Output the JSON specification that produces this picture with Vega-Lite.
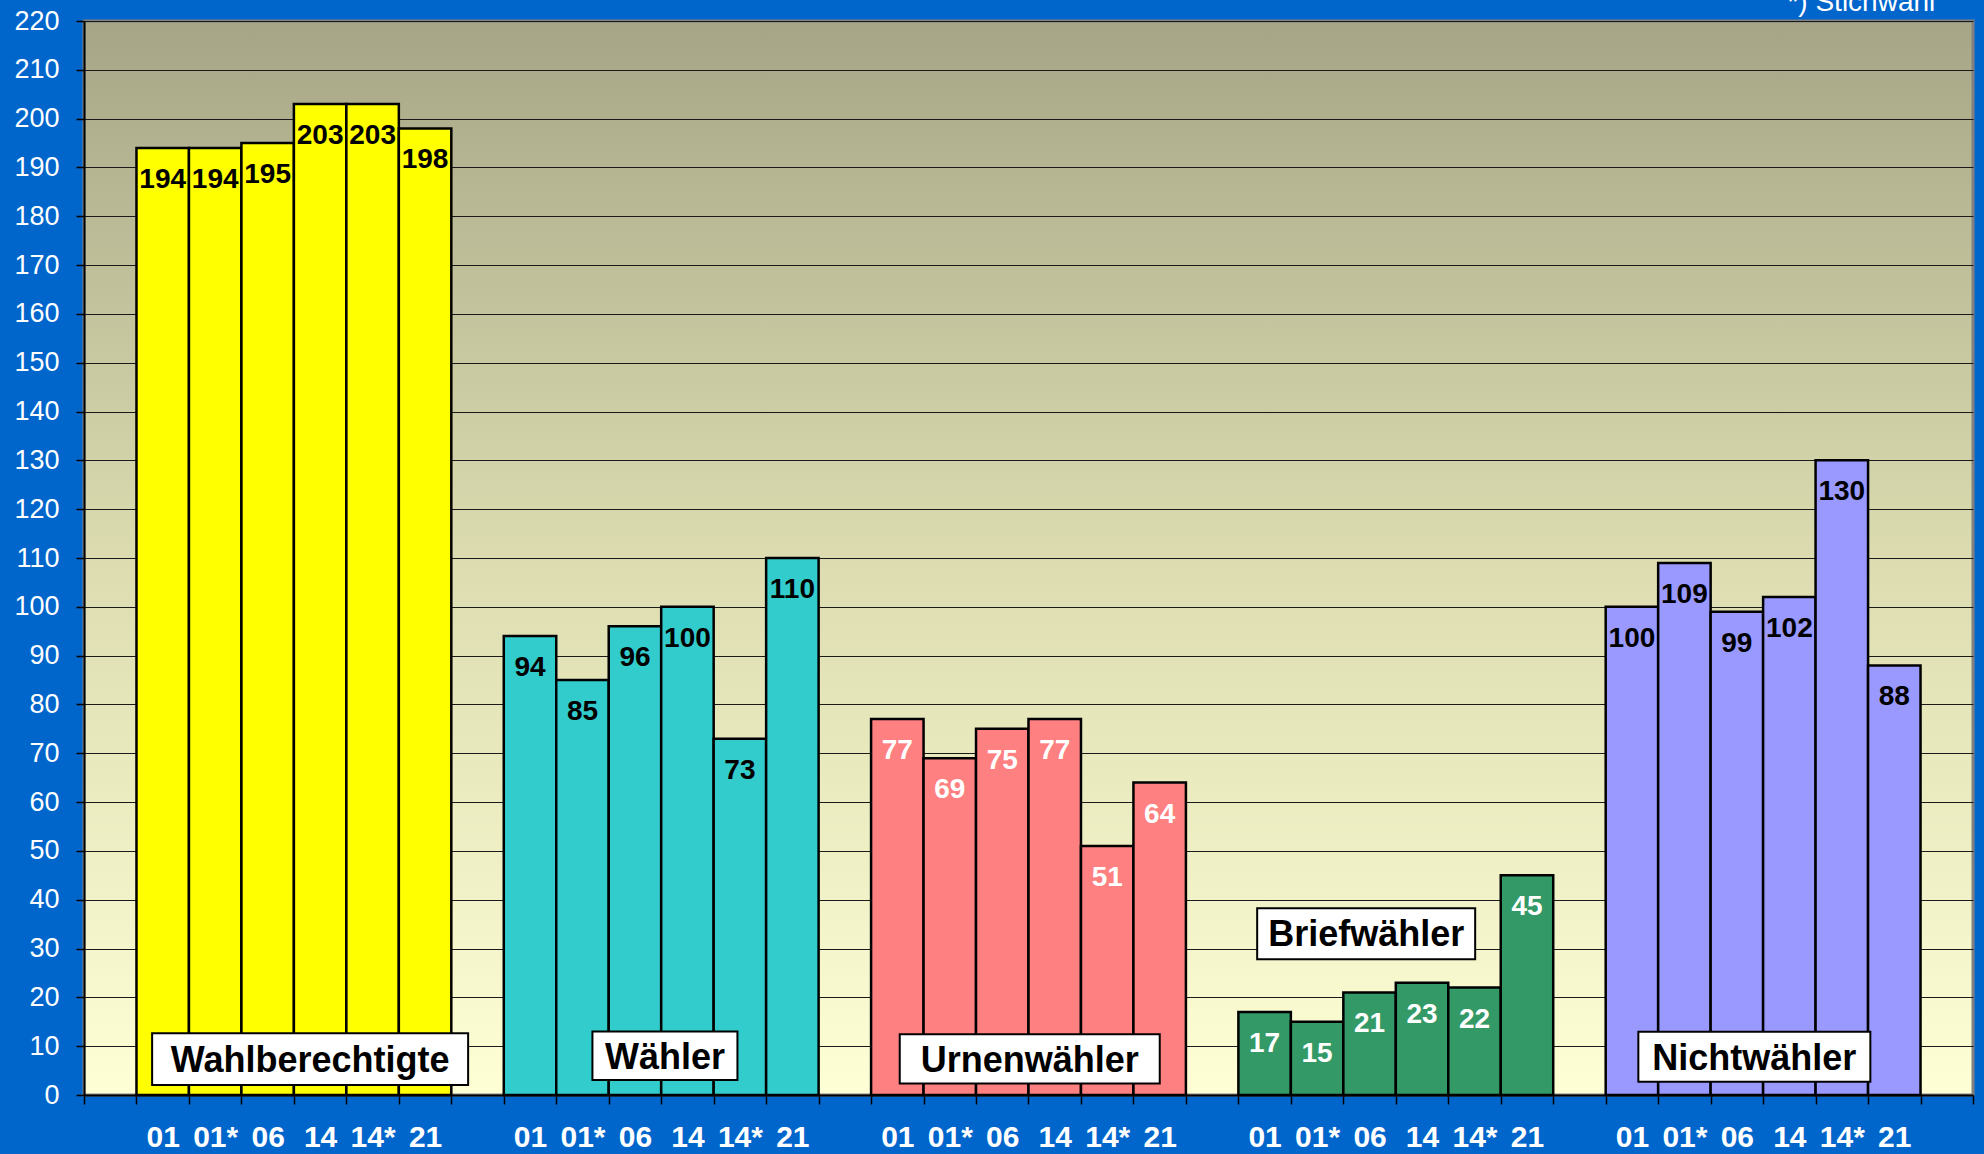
{
  "$schema": "https://vega.github.io/schema/vega-lite/v6.json",
  "autosize": "none",
  "width": 1889,
  "height": 1074,
  "padding": {"left": 84, "top": 21, "right": 11, "bottom": 59},
  "background": "#0066CC",
  "config": {
    "font": "Liberation Sans",
    "view": {
      "fill": {"gradient": "linear", "x1": 0, "y1": 0, "x2": 0, "y2": 1, "stops": [{"offset": 0, "color": "#A6A687"}, {"offset": 0.5, "color": "#DCDCB0"}, {"offset": 1, "color": "#FFFFD6"}]},
      "stroke": "#808080",
      "strokeWidth": 3
    }
  },
  "data": {"values": [
    {"bar": "Wahlberechtigte 01", "group": "Wahlberechtigte", "year": "01", "value": 194},
    {"bar": "Wahlberechtigte 01*", "group": "Wahlberechtigte", "year": "01*", "value": 194},
    {"bar": "Wahlberechtigte 06", "group": "Wahlberechtigte", "year": "06", "value": 195},
    {"bar": "Wahlberechtigte 14", "group": "Wahlberechtigte", "year": "14", "value": 203},
    {"bar": "Wahlberechtigte 14*", "group": "Wahlberechtigte", "year": "14*", "value": 203},
    {"bar": "Wahlberechtigte 21", "group": "Wahlberechtigte", "year": "21", "value": 198},
    {"bar": "Wähler 01", "group": "Wähler", "year": "01", "value": 94},
    {"bar": "Wähler 01*", "group": "Wähler", "year": "01*", "value": 85},
    {"bar": "Wähler 06", "group": "Wähler", "year": "06", "value": 96},
    {"bar": "Wähler 14", "group": "Wähler", "year": "14", "value": 100},
    {"bar": "Wähler 14*", "group": "Wähler", "year": "14*", "value": 73},
    {"bar": "Wähler 21", "group": "Wähler", "year": "21", "value": 110},
    {"bar": "Urnenwähler 01", "group": "Urnenwähler", "year": "01", "value": 77},
    {"bar": "Urnenwähler 01*", "group": "Urnenwähler", "year": "01*", "value": 69},
    {"bar": "Urnenwähler 06", "group": "Urnenwähler", "year": "06", "value": 75},
    {"bar": "Urnenwähler 14", "group": "Urnenwähler", "year": "14", "value": 77},
    {"bar": "Urnenwähler 14*", "group": "Urnenwähler", "year": "14*", "value": 51},
    {"bar": "Urnenwähler 21", "group": "Urnenwähler", "year": "21", "value": 64},
    {"bar": "Briefwähler 01", "group": "Briefwähler", "year": "01", "value": 17},
    {"bar": "Briefwähler 01*", "group": "Briefwähler", "year": "01*", "value": 15},
    {"bar": "Briefwähler 06", "group": "Briefwähler", "year": "06", "value": 21},
    {"bar": "Briefwähler 14", "group": "Briefwähler", "year": "14", "value": 23},
    {"bar": "Briefwähler 14*", "group": "Briefwähler", "year": "14*", "value": 22},
    {"bar": "Briefwähler 21", "group": "Briefwähler", "year": "21", "value": 45},
    {"bar": "Nichtwähler 01", "group": "Nichtwähler", "year": "01", "value": 100},
    {"bar": "Nichtwähler 01*", "group": "Nichtwähler", "year": "01*", "value": 109},
    {"bar": "Nichtwähler 06", "group": "Nichtwähler", "year": "06", "value": 99},
    {"bar": "Nichtwähler 14", "group": "Nichtwähler", "year": "14", "value": 102},
    {"bar": "Nichtwähler 14*", "group": "Nichtwähler", "year": "14*", "value": 130},
    {"bar": "Nichtwähler 21", "group": "Nichtwähler", "year": "21", "value": 88},
    {"bar": "Wahlberechtigte 14", "label": "Wahlberechtigte", "top": 12.64, "bottom": 2.05, "mid": 6.96},
    {"bar": "Wähler 14", "label": "Wähler", "top": 12.99, "bottom": 3.05, "mid": 7.6},
    {"bar": "Urnenwähler 14", "label": "Urnenwähler", "top": 12.45, "bottom": 2.38, "mid": 7.0},
    {"bar": "Briefwähler 06", "label": "Briefwähler", "top": 38.24, "bottom": 27.8, "mid": 32.77},
    {"bar": "Nichtwähler 14", "label": "Nichtwähler", "top": 12.97, "bottom": 2.72, "mid": 7.37},
    {"bar": "Nichtwähler 21", "label": "*) Stichwahl", "mid": 220}
  ]},
  "encoding": {
    "x": {
      "field": "bar", "type": "nominal", "title": null,
      "scale": {"type": "band", "paddingInner": 0, "paddingOuter": 0, "domain": [
        "g0", "Wahlberechtigte 01", "Wahlberechtigte 01*", "Wahlberechtigte 06", "Wahlberechtigte 14", "Wahlberechtigte 14*", "Wahlberechtigte 21",
        "g1", "Wähler 01", "Wähler 01*", "Wähler 06", "Wähler 14", "Wähler 14*", "Wähler 21",
        "g2", "Urnenwähler 01", "Urnenwähler 01*", "Urnenwähler 06", "Urnenwähler 14", "Urnenwähler 14*", "Urnenwähler 21",
        "g3", "Briefwähler 01", "Briefwähler 01*", "Briefwähler 06", "Briefwähler 14", "Briefwähler 14*", "Briefwähler 21",
        "g4", "Nichtwähler 01", "Nichtwähler 01*", "Nichtwähler 06", "Nichtwähler 14", "Nichtwähler 14*", "Nichtwähler 21",
        "g5"]},
      "axis": {
        "labelAngle": 0, "labelOverlap": false,
        "labelExpr": "test(/ /, '' + datum.value) ? split('' + datum.value, ' ')[1] : ''",
        "labelFontSize": 30, "labelFontWeight": "bold", "labelColor": "white",
        "labelBaseline": "alphabetic", "labelPadding": 42,
        "tickBand": "extent", "tickSize": 9, "tickColor": "black", "tickWidth": 1.5,
        "domainColor": "black", "domainWidth": 2, "grid": false
      }
    }
  },
  "layer": [
    {
      "transform": [{"filter": "isValid(datum.value)"}],
      "mark": {"type": "bar", "stroke": "black", "strokeWidth": 2.5},
      "encoding": {
        "y": {
          "field": "value", "type": "quantitative", "title": null,
          "scale": {"domain": [0, 220], "nice": false},
          "axis": {
            "values": [0, 10, 20, 30, 40, 50, 60, 70, 80, 90, 100, 110, 120, 130, 140, 150, 160, 170, 180, 190, 200, 210, 220],
            "grid": true, "gridColor": "#1a1a1a", "gridWidth": 1.2,
            "labelFontSize": 27, "labelColor": "white", "labelPadding": 17,
            "tickSize": 8, "tickColor": "black", "tickWidth": 1.5,
            "domainColor": "black", "domainWidth": 2
          }
        },
        "color": {"field": "group", "type": "nominal", "legend": null,
          "scale": {"domain": ["Wahlberechtigte", "Wähler", "Urnenwähler", "Briefwähler", "Nichtwähler"], "range": ["#FFFF00", "#33CCCC", "#FF8080", "#339966", "#9999FF"]}}
      }
    },
    {
      "transform": [{"filter": "isValid(datum.value)"}],
      "mark": {"type": "text", "baseline": "alphabetic", "align": "center", "dy": 40, "fontSize": 28, "fontWeight": "bold"},
      "encoding": {
        "y": {"field": "value", "type": "quantitative"},
        "text": {"field": "value", "type": "quantitative"},
        "color": {"condition": {"test": "datum.group === 'Urnenwähler' || datum.group === 'Briefwähler'", "value": "white"}, "value": "black"}
      }
    },
    {
      "transform": [{"filter": "datum.label === 'Wahlberechtigte'"}],
      "mark": {"type": "bar", "width": 316, "xOffset": -10, "fill": "white", "stroke": "black", "strokeWidth": 2},
      "encoding": {"y": {"field": "top", "type": "quantitative", "stack": null}, "y2": {"field": "bottom"}}
    },
    {
      "transform": [{"filter": "datum.label === 'Wahlberechtigte'"}],
      "mark": {"type": "text", "dx": -10, "align": "center", "baseline": "middle", "fontSize": 36, "fontWeight": "bold", "color": "black"},
      "encoding": {"y": {"field": "mid", "type": "quantitative"}, "text": {"field": "label", "type": "nominal"}}
    },
    {
      "transform": [{"filter": "datum.label === 'Wähler'"}],
      "mark": {"type": "bar", "width": 145, "xOffset": -22.5, "fill": "white", "stroke": "black", "strokeWidth": 2},
      "encoding": {"y": {"field": "top", "type": "quantitative", "stack": null}, "y2": {"field": "bottom"}}
    },
    {
      "transform": [{"filter": "datum.label === 'Wähler'"}],
      "mark": {"type": "text", "dx": -22.5, "align": "center", "baseline": "middle", "fontSize": 36, "fontWeight": "bold", "color": "black"},
      "encoding": {"y": {"field": "mid", "type": "quantitative"}, "text": {"field": "label", "type": "nominal"}}
    },
    {
      "transform": [{"filter": "datum.label === 'Urnenwähler'"}],
      "mark": {"type": "bar", "width": 260, "xOffset": -25, "fill": "white", "stroke": "black", "strokeWidth": 2},
      "encoding": {"y": {"field": "top", "type": "quantitative", "stack": null}, "y2": {"field": "bottom"}}
    },
    {
      "transform": [{"filter": "datum.label === 'Urnenwähler'"}],
      "mark": {"type": "text", "dx": -25, "align": "center", "baseline": "middle", "fontSize": 36, "fontWeight": "bold", "color": "black"},
      "encoding": {"y": {"field": "mid", "type": "quantitative"}, "text": {"field": "label", "type": "nominal"}}
    },
    {
      "transform": [{"filter": "datum.label === 'Briefwähler'"}],
      "mark": {"type": "bar", "width": 218, "xOffset": -3.4, "fill": "white", "stroke": "black", "strokeWidth": 2},
      "encoding": {"y": {"field": "top", "type": "quantitative", "stack": null}, "y2": {"field": "bottom"}}
    },
    {
      "transform": [{"filter": "datum.label === 'Briefwähler'"}],
      "mark": {"type": "text", "dx": -3.4, "align": "center", "baseline": "middle", "fontSize": 36, "fontWeight": "bold", "color": "black"},
      "encoding": {"y": {"field": "mid", "type": "quantitative"}, "text": {"field": "label", "type": "nominal"}}
    },
    {
      "transform": [{"filter": "datum.label === 'Nichtwähler'"}],
      "mark": {"type": "bar", "width": 232, "xOffset": -35, "fill": "white", "stroke": "black", "strokeWidth": 2},
      "encoding": {"y": {"field": "top", "type": "quantitative", "stack": null}, "y2": {"field": "bottom"}}
    },
    {
      "transform": [{"filter": "datum.label === 'Nichtwähler'"}],
      "mark": {"type": "text", "dx": -35, "align": "center", "baseline": "middle", "fontSize": 36, "fontWeight": "bold", "color": "black"},
      "encoding": {"y": {"field": "mid", "type": "quantitative"}, "text": {"field": "label", "type": "nominal"}}
    },
    {
      "transform": [{"filter": "datum.label === '*) Stichwahl'"}],
      "mark": {"type": "text", "align": "right", "baseline": "alphabetic", "dx": 41, "dy": -10, "fontSize": 28, "fontWeight": "normal", "color": "white"},
      "encoding": {"y": {"field": "mid", "type": "quantitative"}, "text": {"field": "label", "type": "nominal"}}
    }
  ]
}
